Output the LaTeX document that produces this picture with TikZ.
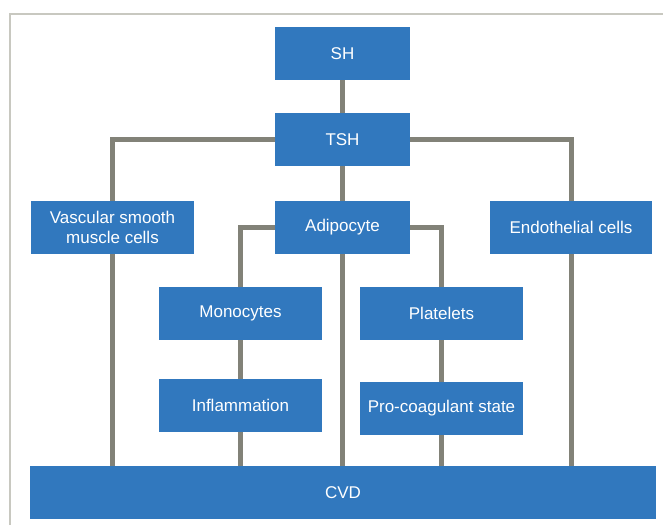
\documentclass[tikz,border=0pt]{standalone}
\usepackage{fontspec}
\setmainfont{Liberation Sans}
\usepackage{tikz}
\usetikzlibrary{calc}
\definecolor{boxblue}{RGB}{49,120,190}
\definecolor{linkgray}{RGB}{130,130,120}
\definecolor{framegray}{RGB}{200,200,192}
\tikzset{box/.style={fill=boxblue,text=white,inner sep=0pt,minimum height=53pt,align=center,font=\fontsize{17}{20}\selectfont},
  link/.style={draw=linkgray,line width=5pt}}

\begin{document}
\begin{tikzpicture}[x=1pt,y=-1pt]
  \useasboundingbox (0,0) rectangle (663,525);
  \draw [framegray, line width=1.5pt] (10,525) -- (10,14) -- (663,14);
  \node (sh) [box,minimum width=135pt] at (342.5,53.5) {SH};
  \node (tsh) [box,minimum width=135pt] at (342.5,139.5) {TSH};
  \node (vsmc) [box,minimum width=163pt] at (112.5,227.5) {Vascular smooth\\muscle cells};
  \node (adipo) [box,minimum width=135pt] at (342.5,227.5) {Adipocyte};
  \node (endo) [box,minimum width=162pt] at (571,227.5) {Endothelial cells};
  \node (mono) [box,minimum width=163pt] at (240.5,313.5) {Monocytes};
  \node (plt) [box,minimum width=163pt] at (441.5,313.5) {Platelets};
  \node (infl) [box,minimum width=163pt] at (240.5,405.5) {Inflammation};
  \node (procoag) [box,minimum width=163pt] at (441.5,408.5) {Pro-coagulant state};
  \node (cvd) [box,minimum width=626pt] at (343,492.5) {CVD};
  \draw [link] (sh) -- (tsh);
  \draw [link] (tsh) -- (adipo);
  \draw [link] (tsh.west) -| (vsmc.north);
  \draw [link] (tsh.east) -| (endo.north);
  \draw [link] (adipo.west) -| (mono.north);
  \draw [link] (adipo.east) -| (plt.north);
  \draw [link] (mono) -- (infl);
  \draw [link] (plt) -- (procoag);
  \draw [link] (vsmc.south) -- (vsmc.south |- cvd.north);
  \draw [link] (adipo.south) -- (adipo.south |- cvd.north);
  \draw [link] (endo.south) -- (endo.south |- cvd.north);
  \draw [link] (infl.south) -- (infl.south |- cvd.north);
  \draw [link] (procoag.south) -- (procoag.south |- cvd.north);
\end{tikzpicture}
\end{document}
